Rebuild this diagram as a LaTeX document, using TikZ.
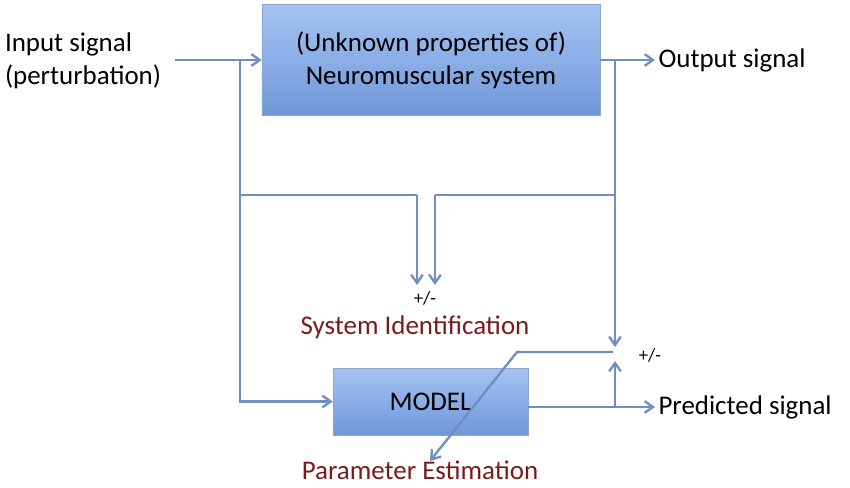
\documentclass[tikz,border=0pt]{standalone}
\usepackage{fontspec}
\setmainfont{Carlito}
\usetikzlibrary{arrows.meta,positioning}
\definecolor{wirec}{HTML}{6F8FC2}
\definecolor{boxtop}{HTML}{A6C3F2}
\definecolor{boxbot}{HTML}{6F98DA}
\definecolor{darkred}{HTML}{7A1A1A}
\begin{document}
\begin{tikzpicture}[x=0.03cm,y=-0.03cm,>={Straight Barb[length=2.5mm,width=3.5mm]},
	font=\fontsize{23}{28}\selectfont]
	\tikzstyle{block}=[draw=wirec!80,top color=boxtop,bottom color=boxbot,inner sep=0pt,align=center]
	\tikzstyle{wire}=[draw=wirec,line width=2pt]
	\tikzstyle{red-lab}=[text=darkred,inner sep=0pt]
	\tikzstyle{pm}=[font=\fontsize{16}{18}\selectfont,inner sep=0pt]
	\tikzstyle{lab}=[anchor=west,inner sep=0pt,outer sep=3pt]
	\useasboundingbox (0,0) rectangle (850,488);
	% blocks
	\node[block,minimum width=10.14cm,minimum height=3.33cm] (nms) at (431,60) {(Unknown properties of)\\Neuromuscular system};
	\node[block,minimum width=5.85cm,minimum height=2.01cm] (model) at (430.5,401.5) {MODEL};
	% labels
	\node[lab,align=left,outer sep=0pt] (input) at (5,61) {Input signal\\(perturbation)};
	\node[lab] (output) at (655,60) {Output signal};
	\node[lab] (pred) at (655,407) {Predicted signal};
	\node[red-lab] (sysid) at (415,327) {System Identification};
	\node[red-lab] (param) at (420,470) {Parameter Estimation};
	\node[pm] (pm1) at (425,298) {+/-};
	\node[pm] (pm2) at (650,355) {+/-};
	% junctions
	\coordinate (jin) at (240,60);
	\coordinate (jout) at (615,60);
	\coordinate (jl) at (240,195);
	\coordinate (jr) at (615,195);
	\coordinate (ml) at (417,195);
	\coordinate (mr) at (435,195);
	\coordinate (sl) at (417,285);
	\coordinate (sr) at (435,285);
	\coordinate (jp) at (615,407);
	\coordinate (cmp) at (615,347);
	\coordinate (cmpb) at (615,361);
	\coordinate (pe) at (613,352);
	\coordinate (bend) at (517,352);
	\coordinate (pe-end) at (430,461);
	% connectors
	\draw[wire,->] (175,60) -- (nms.west);
	\draw[wire,->] (nms.east) -- (output.west);
	\draw[wire,->] (jin) -- (jin |- model.west) -- (model.west);
	\draw[wire] (jl) -- (ml);
	\draw[wire,->] (ml) -- (sl);
	\draw[wire] (jr) -- (mr);
	\draw[wire,->] (mr) -- (sr);
	\draw[wire,->] (jout) -- (cmp);
	\draw[wire,->] (model.east |- pred.west) -- (pred.west);
	\draw[wire,->] (jp) -- (cmpb);
	\draw[wire,->] (pe) -- (bend) -- (pe-end);
\end{tikzpicture}
\end{document}
